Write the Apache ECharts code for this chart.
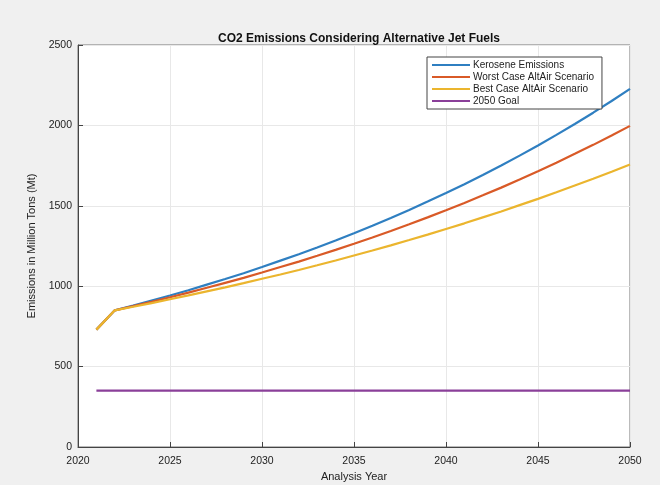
<!DOCTYPE html>
<html>
<head>
<meta charset="utf-8">
<script src="https://cdn.jsdelivr.net/npm/echarts@6/dist/echarts.min.js"></script>
<style>
	html, body { margin: 0; padding: 0; background: #f0f0f0; }
	#main { width: 660px; height: 485px; }
</style>
</head>
<body>
<div id="main"></div>
<script>
// years 2021..2050
var years = [];
for (var y = 2021; y <= 2050; y++) years.push(y);

var kerosene = [730, 850, 880, 911, 942, 975, 1010, 1045, 1081, 1119, 1159, 1199, 1241, 1284, 1329,
	1376, 1424, 1474, 1526, 1579, 1634, 1691, 1751, 1812, 1875, 1941, 2009, 2079, 2152, 2227];
var worstCase = [730, 850, 876, 903, 931, 960, 990, 1021, 1052, 1085, 1119, 1153, 1189, 1226, 1264,
	1303, 1343, 1385, 1428, 1472, 1518, 1565, 1613, 1663, 1715, 1768, 1823, 1879, 1937, 1997];
var bestCase = [730, 850, 872, 895, 919, 943, 968, 993, 1019, 1046, 1073, 1101, 1130, 1160, 1191,
	1222, 1254, 1287, 1321, 1356, 1391, 1428, 1465, 1504, 1543, 1584, 1626, 1668, 1712, 1757];
var goal = [350, 350, 350, 350, 350, 350, 350, 350, 350, 350, 350, 350, 350, 350, 350,
	350, 350, 350, 350, 350, 350, 350, 350, 350, 350, 350, 350, 350, 350, 350];

var seriesNames = ['Kerosene Emissions', 'Worst Case AltAir Scenario', 'Best Case AltAir Scenario', '2050 Goal'];
var seriesData = [kerosene, worstCase, bestCase, goal];
var colors = ['#2f7fc1', '#d95a27', '#ebb52e', '#8a3f99'];

function pairs(vals) {
	return years.map(function (yr, i) { return [yr, vals[i]]; });
}

var chartDom = document.getElementById('main');
var myChart = echarts.init(chartDom);
var font = 'Liberation Sans, Arial, sans-serif';

var option = {
	backgroundColor: '#f0f0f0',
	animation: false,
	title: {
		text: 'CO2 Emissions Considering Alternative Jet Fuels',
		left: 354,
		top: 28,
		textAlign: 'center',
		textStyle: { fontSize: 12, fontWeight: 'bold', color: '#111', fontFamily: font }
	},
	legend: {
		orient: 'vertical',
		left: 427,
		top: 57,
		itemWidth: 38,
		itemHeight: 2,
		itemGap: 2,
		icon: 'rect',
		padding: [3, 8, 3, 5],
		backgroundColor: '#fff',
		borderColor: '#444',
		borderWidth: 1,
		borderRadius: 0,
		textStyle: { fontSize: 10, color: '#222', fontFamily: font, padding: [0, 0, 0, -2] },
		data: seriesNames
	},
	grid: {
		left: 78, right: 30, top: 45, bottom: 38,
		outerBoundsMode: 'none',
		show: true,
		backgroundColor: '#fff',
		borderColor: '#777',
		borderWidth: 1
	},
	xAxis: {
		type: 'value',
		min: 2020, max: 2050, interval: 5,
		name: 'Analysis Year',
		nameLocation: 'middle',
		nameGap: 24,
		nameTextStyle: { fontSize: 11, color: '#222', fontFamily: font },
		axisLine: { lineStyle: { color: '#444' } },
		axisTick: { inside: true, length: 5, lineStyle: { color: '#444' } },
		axisLabel: { fontSize: 10.5, color: '#222', fontFamily: font, margin: 9, formatter: function (v) { return String(v); } },
		splitLine: { lineStyle: { color: '#e8e8e8' } }
	},
	yAxis: {
		type: 'value',
		min: 0, max: 2500, interval: 500,
		name: 'Emissions in Million Tons (Mt)',
		nameLocation: 'middle',
		nameGap: 36,
		nameTextStyle: { fontSize: 11, color: '#222', fontFamily: font },
		axisLine: { show: true, lineStyle: { color: '#444' } },
		axisTick: { show: true, inside: true, length: 5, lineStyle: { color: '#444' } },
		axisLabel: { fontSize: 10.5, color: '#222', fontFamily: font, margin: 6, formatter: function (v) { return String(v); } },
		splitLine: { lineStyle: { color: '#e8e8e8' } }
	},
	series: seriesNames.map(function (name, i) {
		return {
			name: name,
			type: 'line',
			data: pairs(seriesData[i]),
			showSymbol: false,
			z: 2 + i,
			lineStyle: { width: 2.2, color: colors[i] },
			itemStyle: { color: colors[i] }
		};
	})
};

option && myChart.setOption(option);
</script>
</body>
</html>
